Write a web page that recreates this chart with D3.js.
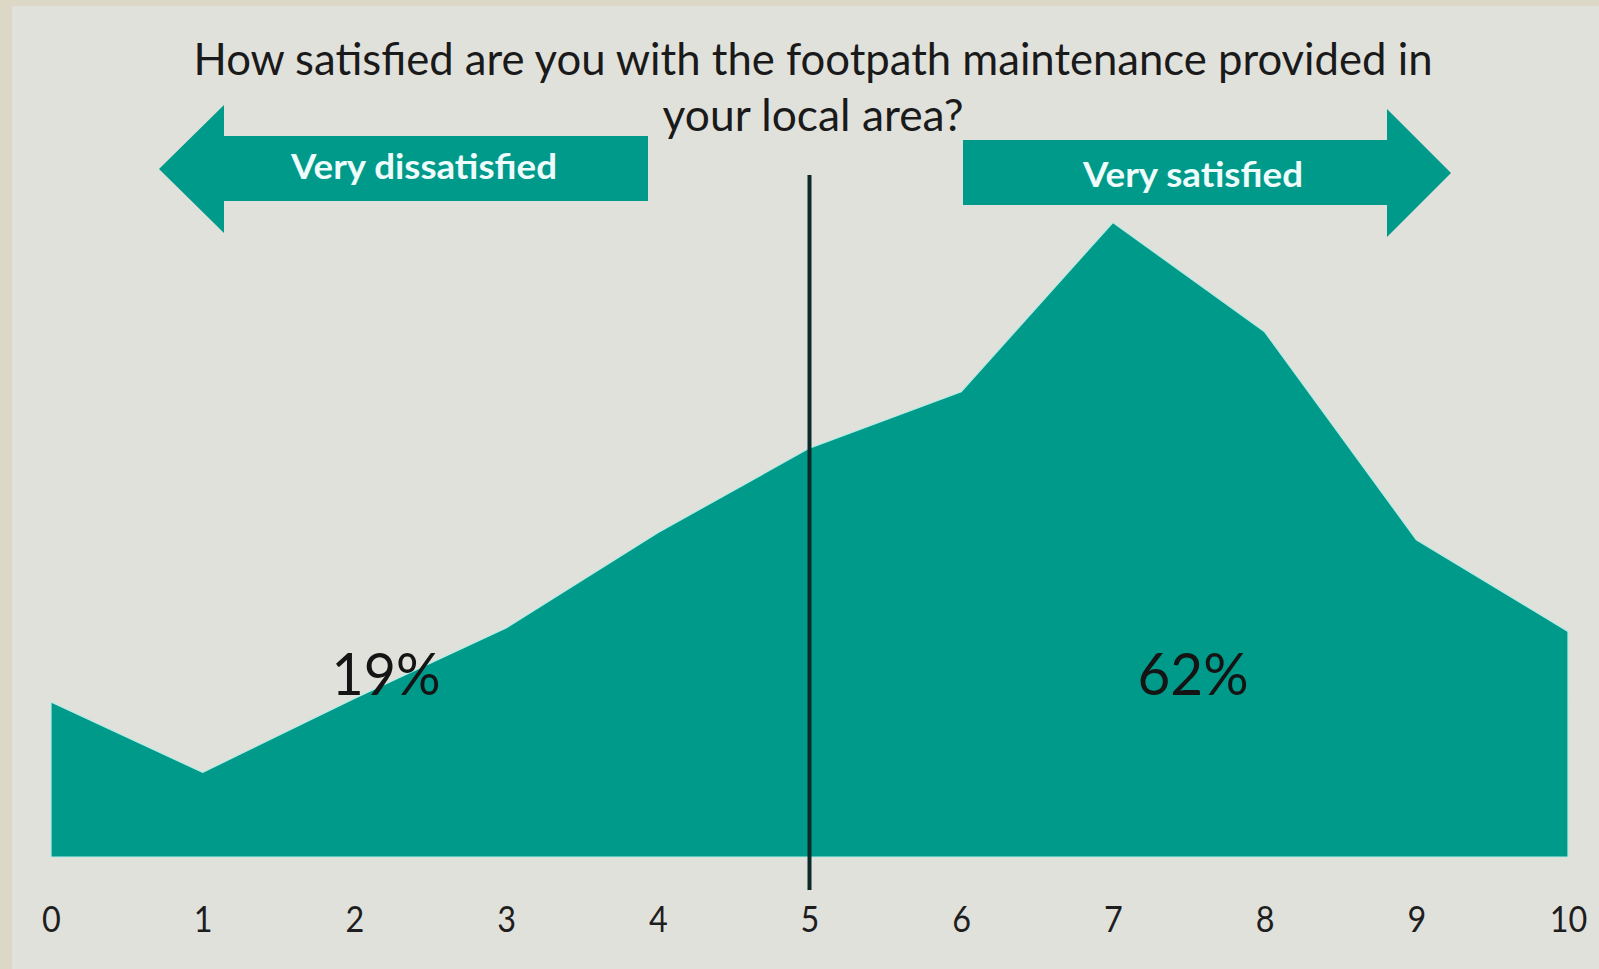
<!DOCTYPE html>
<html>
<head>
<meta charset="utf-8">
<script src="https://cdn.jsdelivr.net/npm/d3@7"></script>
<style>
  html, body { margin: 0; padding: 0; background: #ddd7c6; }
  svg { display: block; }
</style>
</head>
<body>
<svg id="chart" width="1599" height="969"></svg>
<script>
// ---- data ----
const scores = [0, 1, 2, 3, 4, 5, 6, 7, 8, 9, 10];
const shares = [4.4, 2.4, 4.5, 6.5, 9.2, 11.6, 13.2, 18.0, 14.9, 9.0, 6.4];
const tickLabels = ["0", "1", "2", "3", "4", "5", "6", "7", "8", "9", "10"];
const titleLines = ["How satisfied are you with the footpath maintenance provided in", "your local area?"];
const arrowLabels = ["Very dissatisfied", "Very satisfied"];
const groupTotals = ["19%", "62%"];
const midpoint = 5;

// ---- setup ----
const W = 1599, H = 969;
const svg = d3.select("#chart");
const teal = "#009a8b";
const font = "Lato, 'Open Sans', sans-serif";

svg.append("rect").attr("x", 0).attr("y", 0).attr("width", W).attr("height", H).attr("fill", "#ddd7c6");
svg.append("rect").attr("x", 12).attr("y", 6).attr("width", W - 12).attr("height", H - 6).attr("fill", "#e1e1dc");

const x = d3.scaleLinear().domain([0, 10]).range([51, 1568]);
const y = d3.scaleLinear().domain([0, 20]).range([857, 152]);

// area
const area = d3.area()
  .x((d, i) => x(scores[i]))
  .y0(y(0))
  .y1(d => y(d))
  .curve(d3.curveLinear);

svg.append("path")
  .datum(shares)
  .attr("d", area)
  .attr("fill", teal)
  .attr("stroke", "#b9ece4")
  .attr("stroke-width", 1.2)
  .attr("stroke-linejoin", "miter");

// axis labels
const axis = d3.axisBottom(x)
  .tickValues(scores)
  .tickFormat((d, i) => tickLabels[i])
  .tickSize(0)
  .tickPadding(0);
const ax = svg.append("g").attr("transform", "translate(0,906)").call(axis);
ax.select(".domain").remove();
ax.selectAll("text")
  .attr("font-family", font)
  .attr("font-size", 36)
  .attr("fill", "#1e1e1e")
  .attr("dy", "0.71em")
  .attr("transform", "scale(0.9,1)");

// vertical midpoint line
svg.append("line")
  .attr("x1", x(midpoint)).attr("x2", x(midpoint))
  .attr("y1", 175).attr("y2", 890)
  .attr("stroke", "#0b2a28")
  .attr("stroke-width", 4);

// title
const titleSpec = [
  {text: titleLines[0], cx: 813, base: 75, width: 1239},
  {text: titleLines[1], cx: 813, base: 131, width: 301}
];
svg.selectAll("text.title").data(titleSpec).enter().append("text")
  .attr("class", "title")
  .attr("x", d => d.cx).attr("y", d => d.base)
  .attr("text-anchor", "middle")
  .attr("font-family", font)
  .attr("font-size", 44)
  .attr("fill", "#1a1a1a")
  .attr("textLength", d => d.width)
  .attr("lengthAdjust", "spacingAndGlyphs")
  .text(d => d.text);

// arrows
const leftArrow = [[159,169],[224,105],[224,136],[648,136],[648,201],[224,201],[224,233]];
const rightArrow = [[963,140],[1387,140],[1387,109],[1451,173],[1387,237],[1387,205],[963,205]];
svg.selectAll("polygon.arrow").data([leftArrow, rightArrow]).enter().append("polygon")
  .attr("class", "arrow")
  .attr("points", d => d.map(p => p.join(",")).join(" "))
  .attr("fill", teal);

const arrowText = [
  {text: arrowLabels[0], cx: 424, base: 179, width: 266},
  {text: arrowLabels[1], cx: 1193, base: 187, width: 220}
];
svg.selectAll("text.arrowlabel").data(arrowText).enter().append("text")
  .attr("class", "arrowlabel")
  .attr("x", d => d.cx).attr("y", d => d.base)
  .attr("text-anchor", "middle")
  .attr("font-family", font)
  .attr("font-weight", "bold")
  .attr("font-size", 35)
  .attr("fill", "#eefcfb")
  .attr("textLength", d => d.width)
  .attr("lengthAdjust", "spacingAndGlyphs")
  .text(d => d.text);

// group totals
const totalSpec = [
  {text: groupTotals[0], cx: 386, base: 695, width: 109},
  {text: groupTotals[1], cx: 1193, base: 695, width: 111}
];
svg.selectAll("text.total").data(totalSpec).enter().append("text")
  .attr("class", "total")
  .attr("x", d => d.cx).attr("y", d => d.base)
  .attr("text-anchor", "middle")
  .attr("font-family", font)
  .attr("font-size", 58)
  .attr("fill", "#141414")
  .attr("textLength", d => d.width)
  .attr("lengthAdjust", "spacingAndGlyphs")
  .text(d => d.text);
</script>
</body>
</html>
